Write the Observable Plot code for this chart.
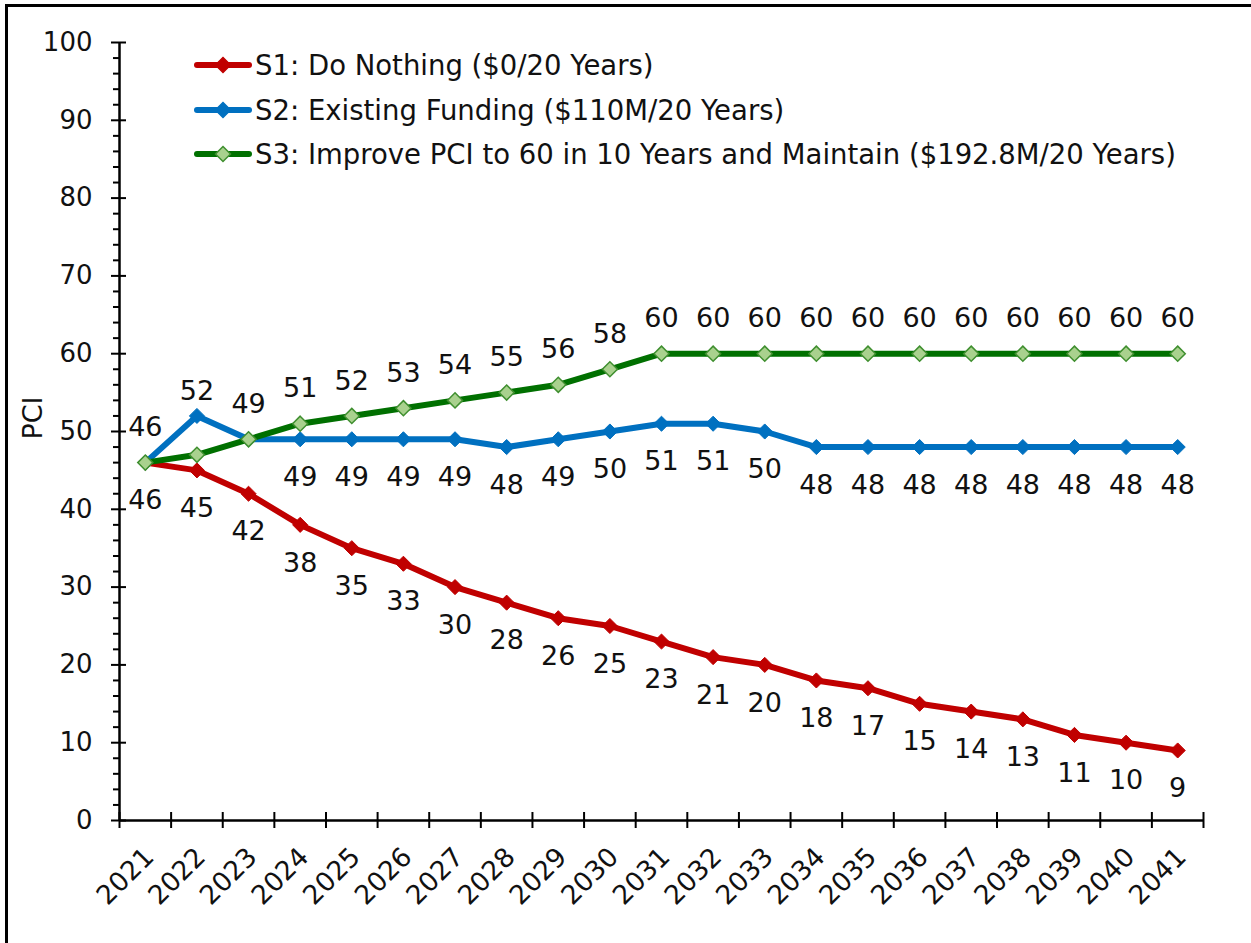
<!DOCTYPE html>
<html>
<head>
<meta charset="utf-8">
<script src="https://cdn.jsdelivr.net/npm/d3@7"></script>
<script src="https://cdn.jsdelivr.net/npm/@observablehq/plot@0.6"></script>
<style>
  html, body { margin: 0; padding: 0; background: #fff; overflow: hidden; }
  #wrap { position: relative; width: 1251px; height: 943px; font-family: "DejaVu Sans", Verdana, sans-serif; }
  #frame { position: absolute; left: 5px; top: 4px; width: 1260px; height: 960px; border: 3px solid #000; box-sizing: border-box; pointer-events: none; }
  #legend { position: absolute; left: 194px; top: 43px; font-size: 27.5px; color: #111; }
  .row { display: flex; align-items: center; height: 44.5px; white-space: nowrap; }
  .row svg { margin-right: 3px; flex: none; }
  #ylab { position: absolute; left: 32px; top: 418px; transform: translate(-50%, -50%) rotate(-90deg); font-size: 27px; color: #111; white-space: nowrap; }
</style>
</head>
<body>
<div id="wrap">
  <div id="chart"></div>
  <div id="legend"></div>
  <div id="ylab">PCI</div>
  <div id="frame"></div>
</div>
<script>
const years = [2021,2022,2023,2024,2025,2026,2027,2028,2029,2030,2031,2032,2033,2034,2035,2036,2037,2038,2039,2040,2041];
const s1 = [46,45,42,38,35,33,30,28,26,25,23,21,20,18,17,15,14,13,11,10,9];
const s2 = [46,52,49,49,49,49,49,48,49,50,51,51,50,48,48,48,48,48,48,48,48];
const s3 = [46,47,49,51,52,53,54,55,56,58,60,60,60,60,60,60,60,60,60,60,60];
const seriesNames = [
  "S1: Do Nothing ($0/20 Years)",
  "S2: Existing Funding ($110M/20 Years)",
  "S3: Improve PCI to 60 in 10 Years and Maintain ($192.8M/20 Years)"
];
const yMajor = [0,10,20,30,40,50,60,70,80,90,100];
const yMinor = d3.range(0, 101, 2).filter(v => v % 10 !== 0);

const red = "#C00000", blue = "#0070C0", green = "#007000", greenFill = "#A9D18E", greenEdge = "#3F8F2F";

const rows = (vals) => years.map((y, i) => ({year: y, v: vals[i], i}));
const d1 = rows(s1), d2 = rows(s2), d3r = rows(s3);
const bounds = [years[0] - 0.5, ...years.map(y => y + 0.5)];

// label placement rules
const s1Labels = d1;
const s2Above = d2.filter(d => d.i === 1);
const s2Below = d2.filter(d => d.i >= 3);
const s3Above = d3r.filter(d => d.i === 0 || d.i >= 2);

const FS = 27;
const chart = Plot.plot({
  width: 1251,
  height: 943,
  marginLeft: 119,
  marginRight: 48,
  marginTop: 42,
  marginBottom: 123,
  style: {fontFamily: "DejaVu Sans, Verdana, sans-serif", fontSize: "26px", color: "#111", background: "transparent"},
  x: {type: "linear", domain: [bounds[0], bounds[bounds.length - 1]], axis: null},
  y: {domain: [0, 100], axis: null},
  marks: [
    // axis lines
    Plot.ruleX([bounds[0]], {stroke: "#000", strokeWidth: 2.5}),
    Plot.ruleY([0], {stroke: "#000", strokeWidth: 2.5}),
    // y ticks
    Plot.axisY(yMinor, {tickSize: 6, tickFormat: () => "", label: null, stroke: "#000", strokeWidth: 2}),
    Plot.axisY(yMajor, {tickSize: 15, dx: 7, tickFormat: () => "", label: null, stroke: "#000", strokeWidth: 2}),
    Plot.axisY(yMajor, {tickSize: 0, tickPadding: 27, label: null, fontSize: 26, fill: "#111"}),
    // x ticks
    Plot.axisX(bounds, {tickSize: 16, dy: -8, tickFormat: () => "", label: null, stroke: "#000", strokeWidth: 2}),
    Plot.text(years, {x: d => d, y: 0, text: d => String(d), rotate: -45, textAnchor: "end", dx: 4, dy: 32, fontSize: 26.5, fill: "#111"}),
    // series
    Plot.line(d1, {x: "year", y: "v", stroke: red, strokeWidth: 6}),
    Plot.dot(d1, {x: "year", y: "v", symbol: "diamond2", r: 6.8, fill: red, stroke: red, strokeWidth: 1}),
    Plot.line(d2, {x: "year", y: "v", stroke: blue, strokeWidth: 6}),
    Plot.dot(d2, {x: "year", y: "v", symbol: "diamond2", r: 6.8, fill: blue, stroke: blue, strokeWidth: 1}),
    Plot.line(d3r, {x: "year", y: "v", stroke: green, strokeWidth: 6}),
    Plot.dot(d3r, {x: "year", y: "v", symbol: "diamond2", r: 6.8, fill: greenFill, stroke: greenEdge, strokeWidth: 1.5}),
    // data labels
    Plot.text(s1Labels, {x: "year", y: "v", text: d => String(d.v), dy: 38, fontSize: FS, fill: "#111"}),
    Plot.text(s2Above, {x: "year", y: "v", text: d => String(d.v), dy: -25, fontSize: FS, fill: "#111"}),
    Plot.text(s2Below, {x: "year", y: "v", text: d => String(d.v), dy: 38, fontSize: FS, fill: "#111"}),
    Plot.text(s3Above, {x: "year", y: "v", text: d => String(d.v), dy: -35, fontSize: FS, fill: "#111"})
  ]
});
document.getElementById("chart").appendChild(chart);

// legend
const legend = document.getElementById("legend");
const swatches = [
  {stroke: red, fill: red, edge: red},
  {stroke: blue, fill: blue, edge: blue},
  {stroke: green, fill: greenFill, edge: greenEdge}
];
seriesNames.forEach((name, i) => {
  const s = swatches[i];
  const row = document.createElement("div");
  row.className = "row";
  row.innerHTML = `<svg width="58" height="20" viewBox="0 0 58 20">
      <line x1="3" y1="10" x2="55" y2="10" stroke="${s.stroke}" stroke-width="6" stroke-linecap="round"/>
      <path d="M29,2.5 L36.5,10 L29,17.5 L21.5,10 Z" fill="${s.fill}" stroke="${s.edge}" stroke-width="1.5"/>
    </svg><span>${name}</span>`;
  legend.appendChild(row);
});
</script>
</body>
</html>
